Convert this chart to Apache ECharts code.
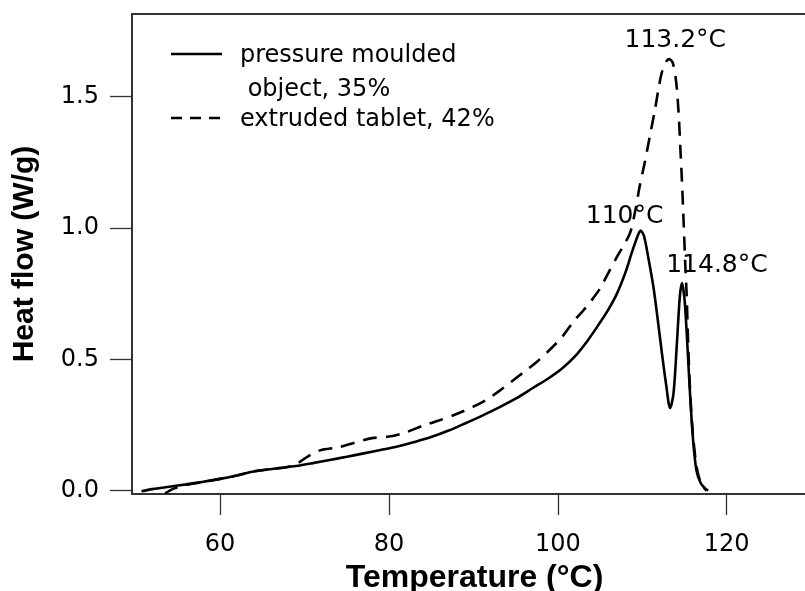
<!DOCTYPE html>
<html>
<head>
<meta charset="utf-8">
<script src="https://cdn.jsdelivr.net/npm/echarts@6/dist/echarts.min.js"></script>
<style>html,body{margin:0;padding:0;background:#fff}#c{width:805px;height:591px}</style>
</head>
<body>
<div id="c"></div>
<script>
// ---- data ----
const xTicks = [60, 80, 100, 120];
const yTicks = [0, 0.5, 1.0, 1.5];
const xTitle = 'Temperature (°C)';
const yTitle = 'Heat flow (W/g)';
const seriesNames = ['pressure moulded\n object, 35%', 'extruded tablet, 42%'];

const tempMoulded = [50.7, 52, 54, 56, 58, 60, 62, 63.5, 65, 67, 69, 71, 73, 75, 77, 79, 81, 83, 85, 87, 89, 91, 93, 95, 97, 99, 100.5, 102, 103.5, 105, 106, 107, 108, 108.8, 109.4, 109.8, 110.2, 110.7, 111.3, 111.8, 112.3, 112.8, 113.3, 113.7, 114.1, 114.45, 114.7, 115.0, 115.3, 115.6, 116.0, 116.4, 116.9, 117.4, 117.8];
const heatMoulded = [-0.002, 0.006, 0.015, 0.024, 0.034, 0.045, 0.058, 0.07, 0.078, 0.086, 0.094, 0.105, 0.117, 0.129, 0.142, 0.155, 0.168, 0.185, 0.204, 0.228, 0.256, 0.285, 0.316, 0.35, 0.39, 0.43, 0.465, 0.51, 0.57, 0.64, 0.69, 0.75, 0.83, 0.91, 0.965, 0.99, 0.97, 0.89, 0.78, 0.66, 0.53, 0.41, 0.315, 0.37, 0.56, 0.74, 0.79, 0.73, 0.58, 0.40, 0.20, 0.08, 0.03, 0.01, 0.0];

const tempExtruded = [53.5, 54.5, 56, 58, 60, 62, 64, 66, 68, 69, 70, 71, 72, 74, 76, 78, 80, 82, 84, 86, 88, 90, 91.5, 93, 94.5, 96, 97.5, 99, 100.5, 102, 103, 104, 105, 106, 107, 108, 108.6, 109.2, 109.7, 110.3, 110.9, 111.5, 111.9, 112.3, 112.8, 113.2, 113.6, 114.0, 114.3, 114.5, 114.7, 114.9, 115.1, 115.25, 115.5, 115.8, 116.1, 116.5, 117.0, 117.6];
const heatExtruded = [-0.01, 0.008, 0.022, 0.033, 0.045, 0.058, 0.074, 0.082, 0.09, 0.1, 0.122, 0.142, 0.155, 0.165, 0.183, 0.2, 0.206, 0.222, 0.247, 0.268, 0.292, 0.32, 0.345, 0.378, 0.415, 0.452, 0.49, 0.535, 0.585, 0.65, 0.685, 0.725, 0.77, 0.83, 0.89, 0.945, 0.985, 1.07, 1.16, 1.25, 1.35, 1.45, 1.525, 1.59, 1.632, 1.643, 1.63, 1.56, 1.44, 1.31, 1.18, 1.02, 0.855, 0.75, 0.5, 0.3, 0.18, 0.08, 0.025, 0.0];

// peak annotations (anchored at the peaks they describe)
const peakLabels = ['113.2°C', '110°C', '114.8°C'];
const peakTemps = [113.2, 109.8, 114.7];
const peakHeats = [1.643, 0.99, 0.79];

// ---- chart ----
const FONT = 'DejaVu Sans';
const TITLE_FONT = '"Liberation Sans", Arial, sans-serif';
const zip = (a, b) => a.map((v, i) => [v, b[i]]);
const xMin = 49.58, xMax = 129.27, yMin = -0.0126, yMax = 1.8146;
const annOffsets = [[6, -19], [-16, -14], [35, -18]];

const chart = echarts.init(document.getElementById('c'), null, {renderer: 'canvas'});
chart.setOption({
  animation: false,
  backgroundColor: '#fff',
  grid: {left: 132, right: 0, top: 14, bottom: 97, containLabel: false, outerBoundsMode: 'none'},
  xAxis: [{
    type: 'value', min: xMin, max: xMax, position: 'bottom',
    name: xTitle, nameLocation: 'middle', nameGap: 67,
    nameTextStyle: {fontFamily: TITLE_FONT, fontSize: 32, fontWeight: 'bold', color: '#000', padding: [0, 0, 0, 12]},
    axisLine: {show: true, onZero: false, lineStyle: {color: '#333', width: 2}},
    axisTick: {show: true, length: 21, customValues: xTicks, lineStyle: {color: '#333', width: 1.3}},
    axisLabel: {show: true, customValues: xTicks, margin: 39, fontFamily: FONT, fontSize: 24, color: '#000'},
    splitLine: {show: false}
  }, {
    type: 'value', min: xMin, max: xMax, position: 'top',
    axisLine: {show: true, onZero: false, lineStyle: {color: '#333', width: 2}},
    axisTick: {show: false}, axisLabel: {show: false}, splitLine: {show: false}
  }],
  yAxis: {
    type: 'value', min: yMin, max: yMax,
    name: yTitle, nameLocation: 'middle', nameGap: 92,
    nameTextStyle: {fontFamily: TITLE_FONT, fontSize: 30, fontWeight: 'bold', color: '#000'},
    axisLine: {show: true, onZero: false, lineStyle: {color: '#333', width: 2}},
    axisTick: {show: true, length: 22, customValues: yTicks, lineStyle: {color: '#333', width: 1.3}},
    axisLabel: {show: true, customValues: yTicks, margin: 33, fontFamily: FONT, fontSize: 24, color: '#000',
      formatter: v => v.toFixed(1)},
    splitLine: {show: false}
  },
  series: [{
    name: seriesNames[0], type: 'line', showSymbol: false, smooth: 0.3,
    data: zip(tempMoulded, heatMoulded),
    lineStyle: {color: '#000', width: 2.6, type: 'solid'},
    markPoint: {
      symbol: 'circle', symbolSize: 0,
      data: [1, 2].map(i => ({name: peakLabels[i], coord: [peakTemps[i], peakHeats[i]],
        label: {offset: annOffsets[i]}})),
      label: {show: true, position: 'inside', formatter: '{b}', fontFamily: FONT, fontSize: 25, color: '#000'}
    }
  }, {
    name: seriesNames[1], type: 'line', showSymbol: false, smooth: 0.3,
    data: zip(tempExtruded, heatExtruded),
    lineStyle: {color: '#000', width: 2.6, type: [14, 9]},
    markPoint: {
      symbol: 'circle', symbolSize: 0,
      data: [0].map(i => ({name: peakLabels[i], coord: [peakTemps[i], peakHeats[i]],
        label: {offset: annOffsets[i]}})),
      label: {show: true, position: 'inside', formatter: '{b}', fontFamily: FONT, fontSize: 25, color: '#000'}
    }
  }],
  graphic: [
    {type: 'line', shape: {x1: 171, y1: 54, x2: 222, y2: 54}, style: {stroke: '#000', lineWidth: 2.6}},
    {type: 'text', left: 240, top: 39, style: {text: seriesNames[0], font: '24px "DejaVu Sans"', fill: '#000', lineHeight: 34}},
    {type: 'line', shape: {x1: 171, y1: 118, x2: 222, y2: 118}, style: {stroke: '#000', lineWidth: 2.6, lineDash: [11, 8]}},
    {type: 'text', left: 240, top: 108, style: {text: seriesNames[1], font: '24px "DejaVu Sans"', fill: '#000'}}
  ]
});
</script>
</body>
</html>
